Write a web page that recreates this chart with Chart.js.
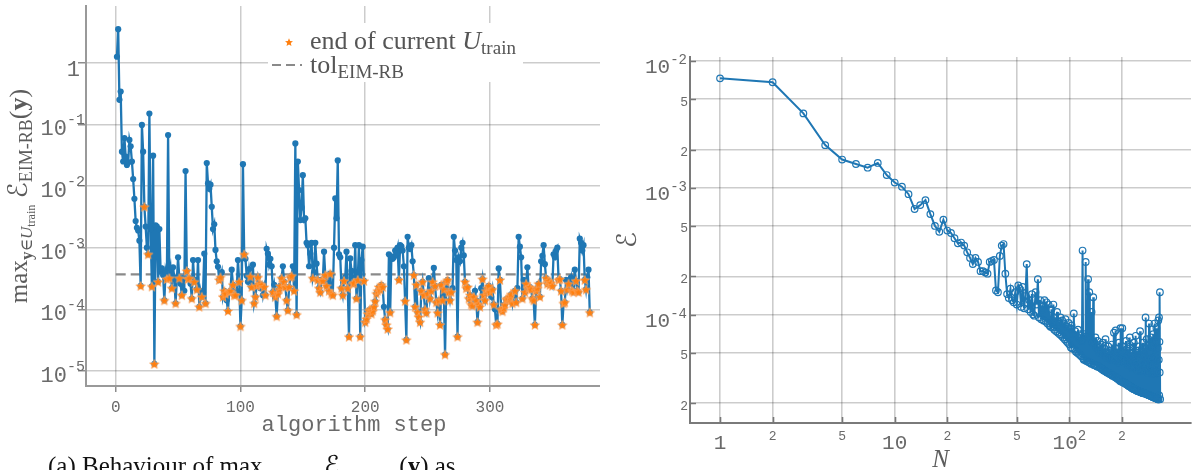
<!DOCTYPE html>
<html>
<head>
<meta charset="utf-8">
<script src="https://cdn.jsdelivr.net/npm/chart.js@4.4.1/dist/chart.umd.min.js"></script>
<style>
  html, body { margin: 0; padding: 0; background: #fff; width: 1192px; height: 470px; overflow: hidden; }
  #left  { position: absolute; left: 0;     top: 0; width: 600px; height: 470px; }
  #right { position: absolute; left: 600px; top: 0; width: 592px; height: 470px; }
</style>
</head>
<body>
<div id="left"><canvas id="stepChart"></canvas></div>
<div id="right"><canvas id="basisChart"></canvas></div>
<script>
// ---- (a) max error over the current training set, per algorithm step (steps 1..380) ----
const stepErr = [
  1.25, 3.5, 0.25, 0.34, 0.036, 0.025, 0.06, 0.03, 0.022, 0.024,
  0.056, 0.044, 0.025, 0.013, 0.0062, 0.0027, 0.0021, 0.0019, 0.0013, 2.4e-4,
  0.098, 0.036, 4.6e-3, 2.2e-3, 1.0e-3, 7.8e-4, 0.15, 2.0e-3, 2.35e-4, 0.031,
  1.3e-5, 2.3e-3, 2.2e-3, 2.8e-4, 2.0e-3, 4.2e-4, 4.6e-4, 3.6e-4, 1.4e-4, 4.0e-4,
  3.1e-4, 0.067, 3.2e-4, 4.5e-4, 2.2e-4, 4.8e-4, 3.3e-4, 1.25e-4, 3.0e-4, 7.0e-4,
  3.2e-4, 2.6e-4, 1.7e-4, 3.2e-4, 2.0e-4, 0.0175, 4.2e-4, 3.1e-4, 3.2e-4, 2.6e-4,
  1.5e-4, 6.3e-4, 2.8e-4, 3.0e-4, 2.1e-4, 6.3e-4, 1.1e-4, 2.0e-4, 1.6e-4, 1.9e-4,
  8.0e-4, 1.25e-4, 0.0236, 0.011, 0.009, 0.0105, 4.6e-3, 2.0e-3, 2.4e-3, 9.2e-4,
  6.0e-4, 4.9e-4, 3.0e-4, 3.3e-4, 4.0e-4, 1.6e-4, 2.0e-4, 1.8e-4, 1.4e-4, 9.4e-5,
  1.9e-4, 2.0e-4, 4.4e-4, 2.5e-4, 1.7e-4, 1.7e-4, 2.0e-4, 6.3e-4, 2.8e-4, 5.3e-5,
  1.4e-4, 0.0226, 7.8e-4, 6.6e-4, 3.5e-4, 2.8e-4, 4.5e-4, 3.4e-4, 2.3e-4, 5.3e-4,
  1.25e-4, 1.6e-4, 2.4e-4, 3.3e-4, 2.6e-4, 2.2e-4, 2.5e-4, 1.7e-4, 2.3e-4, 1.7e-4,
  9.6e-4, 8.0e-4, 5.3e-4, 6.6e-4, 5.0e-4, 1.9e-4, 2.5e-4, 1.6e-4, 7.7e-5, 1.8e-4,
  2.1e-4, 2.4e-4, 3.2e-4, 5.0e-4, 2.8e-4, 2.3e-4, 1.4e-4, 9.6e-5, 2.3e-4, 3.3e-4,
  3.5e-4, 5.0e-4, 2.0e-4, 0.049, 8.2e-5, 0.025, 8.6e-3, 2.8e-3, 4.5e-3, 0.015,
  2.8e-3, 3.0e-3, 1.2e-3, 1.1e-3, 5.0e-4, 8.0e-4, 1.2e-3, 3.2e-4, 4.0e-4, 1.2e-3,
  5.5e-4, 3.0e-4, 2.2e-4, 1.9e-4, 3.0e-4, 2.9e-4, 8.6e-4, 3.6e-4, 2.4e-4, 3.2e-4,
  2.0e-4, 3.8e-4, 1.8e-4, 1.7e-4, 1.0e-3, 6.3e-3, 3.0e-3, 0.026, 7.8e-4, 7.0e-4,
  2.2e-4, 1.7e-4, 2.9e-4, 3.3e-4, 8.6e-4, 2.2e-4, 3.6e-5, 6.7e-4, 4.2e-4, 2.6e-4,
  2.7e-4, 1.1e-3, 1.5e-4, 3.0e-4, 1.1e-3, 3.6e-5, 6.3e-4, 1.04e-3, 2.9e-4, 6.2e-5,
  7.0e-5, 8.5e-5, 9.5e-5, 1.0e-4, 8.5e-5, 9.5e-5, 1.1e-4, 1.35e-4, 1.8e-4, 2.0e-4,
  2.3e-4, 2.1e-4, 2.5e-4, 2.3e-4, 1.1e-4, 6.8e-5, 5.6e-5, 4.8e-5, 7.8e-4, 8.9e-5,
  7.2e-4, 6.6e-4, 7.0e-4, 9.0e-4, 8.0e-4, 1.0e-3, 3.0e-4, 1.1e-3, 1.05e-3, 9.0e-4,
  5.0e-4, 1.36e-4, 3.2e-5, 1.5e-3, 1.0e-3, 9.5e-4, 1.1e-3, 6.0e-4, 3.6e-4, 1.1e-4,
  2.5e-4, 9.0e-5, 7.5e-5, 6.2e-5, 2.0e-4, 2.8e-4, 1.7e-4, 1.0e-4, 8.8e-5, 1.8e-4,
  3.2e-4, 1.5e-4, 2.0e-4, 2.8e-4, 4.7e-4, 2.4e-4, 1.3e-4, 8.8e-5, 1.4e-4, 5.6e-5,
  2.5e-4, 1.4e-4, 2.1e-4, 1.85e-5, 2.8e-4, 3.0e-4, 1.9e-4, 1.4e-4, 1.9e-4, 2.2e-4,
  1.5e-3, 9.0e-4, 6.3e-4, 3.6e-5, 7.0e-4, 6.0e-4, 1.0e-3, 1.2e-3, 7.5e-4, 2.8e-4,
  2.2e-4, 2.3e-4, 1.5e-4, 1.7e-4, 1.2e-4, 1.15e-4, 1.6e-4, 2.0e-4, 1.4e-4, 6.2e-5,
  1.2e-4, 1.1e-4, 2.2e-4, 3.1e-4, 1.7e-4, 1.4e-4, 2.0e-4, 2.2e-4, 2.4e-4, 1.9e-4,
  1.6e-4, 2.1e-4, 1.2e-4, 1.0e-4, 5.6e-5, 5.8e-5, 4.6e-4, 3.0e-4, 1.0e-4, 9.3e-5,
  1.05e-4, 1.2e-4, 1.45e-4, 1.5e-4, 1.45e-4, 1.6e-4, 1.75e-4, 1.25e-4, 1.7e-4, 2.0e-4,
  1.3e-4, 2.2e-4, 1.5e-3, 1.04e-3, 7.0e-4, 1.5e-4, 3.0e-4, 1.9e-4, 2.6e-4, 4.8e-4,
  2.2e-4, 2.3e-4, 2.1e-4, 1.5e-4, 1.4e-4, 5.6e-5, 2.0e-4, 2.2e-4, 2.6e-4, 1.6e-4,
  6.0e-4, 7.4e-4, 1.1e-3, 5.4e-4, 3.2e-4, 2.6e-4, 2.9e-4, 2.5e-4, 2.7e-4, 2.4e-4,
  7.8e-4, 7.0e-4, 9.0e-4, 1.0e-3, 3.0e-4, 3.1e-4, 2.0e-4, 5.6e-5, 1.25e-4, 1.3e-4,
  3.0e-4, 2.1e-4, 2.6e-4, 2.7e-4, 3.3e-4, 2.0e-4, 1.9e-4, 4.4e-4, 2.9e-4, 2.0e-4,
  1.9e-4, 1.4e-3, 1.2e-3, 9.0e-4, 1.1e-3, 3.0e-4, 2.1e-4, 3.3e-4, 4.4e-4, 8.9e-5
];

// steps at which the current training set U_train ends (starred)
const trainEndSteps = [
  20, 23, 26, 29, 31, 34, 39, 41, 43, 45, 48, 51, 53, 57, 58, 59, 61, 63, 65, 67, 69, 72,
  83, 84, 86, 87, 88, 90, 91, 92, 94, 95, 96, 99, 100, 101, 103, 108, 109, 111, 112, 113,
  114, 115, 117, 119, 120, 126, 128, 129, 130, 131, 132, 133, 135, 136, 137, 138, 139, 140,
  141, 143, 145, 158, 162, 163, 164, 165, 166, 168, 169, 171, 172, 173, 174, 181, 182, 183,
  186, 187, 190, 191, 193, 194, 196, 199, 200, 201, 202, 203, 204, 205, 206, 207, 208, 209,
  210, 211, 212, 213, 214, 216, 217, 218, 220, 227, 232, 233, 239, 240, 241, 242, 243, 244,
  245, 246, 247, 248, 249, 250, 252, 253, 254, 256, 257, 258, 259, 260, 261, 262, 263, 264,
  265, 266, 267, 268, 269, 274, 280, 281, 282, 283, 284, 285, 286, 287, 289, 290, 291, 292,
  294, 295, 296, 297, 298, 299, 300, 302, 303, 305, 306, 308, 309, 310, 311, 312, 313, 314,
  315, 316, 317, 318, 320, 321, 326, 328, 329, 331, 332, 333, 334, 335, 336, 337, 338, 339,
  340, 345, 346, 347, 348, 349, 350, 355, 356, 357, 358, 359, 360, 362, 363, 366, 367, 369,
  370, 371, 376, 377, 380
];

const tolEIMRB = 3.7e-4;
const stepTicks = [0, 100, 200, 300];
const errDecades = [1, 1e-1, 1e-2, 1e-3, 1e-4, 1e-5];

// ---- (b) error versus reduced basis size N (N = 1..331) ----
const basisErr = [
  7.3e-3, 6.8e-3, 3.86e-3, 2.17e-3, 1.67e-3, 1.54e-3, 1.44e-3, 1.57e-3, 1.26e-3, 1.10e-3,
  1.02e-3, 8.9e-4, 6.8e-4, 7.3e-4, 8.0e-4, 6.2e-4, 5.0e-4, 4.5e-4, 5.6e-4, 4.6e-4,
  4.4e-4, 4.0e-4, 3.65e-4, 3.7e-4, 3.5e-4, 3.1e-4, 2.8e-4, 2.5e-4, 2.8e-4, 2.6e-4,
  2.2e-4, 2.2e-4, 2.15e-4, 2.1e-4, 2.6e-4, 2.65e-4, 2.7e-4, 1.55e-4, 1.5e-4, 2.9e-4,
  3.5e-4, 3.6e-4, 2.1e-4, 1.45e-4, 1.35e-4, 1.6e-4, 1.3e-4, 1.25e-4, 1.5e-4, 1.2e-4,
  1.7e-4, 1.6e-4, 1.15e-4, 1.65e-4, 1.12e-4, 1.4e-4, 2.5e-4, 1.1e-4, 1.3e-4, 1.05e-4,
  1.45e-4, 1.0e-4, 9.8e-5, 1.5e-4, 1.2e-4, 1.9e-4, 9.5e-5, 1.3e-4, 9.2e-5, 1.1e-4,
  9.0e-5, 1.3e-4, 8.8e-5, 1.25e-4, 8.5e-5, 1.2e-4, 8.2e-5, 8.0e-5, 1.1e-4, 7.9e-5,
  1.2e-4, 7.6e-5, 9.5e-5, 7.4e-5, 1.05e-4, 7.2e-5, 8.8e-5, 7.0e-5, 9.5e-5, 6.8e-5,
  9.0e-5, 6.6e-5, 8.5e-5, 6.4e-5, 9.2e-5, 6.2e-5, 8.0e-5, 6.0e-5, 8.6e-5, 5.8e-5,
  7.8e-5, 5.5e-5, 8.2e-5, 5.4e-5, 7.0e-5, 1.02e-4, 5.3e-5, 7.4e-5, 5.1e-5, 6.8e-5,
  5.0e-5, 7.6e-5, 4.9e-5, 6.5e-5, 4.8e-5, 7.0e-5, 4.7e-5, 6.2e-5, 3.2e-4, 4.5e-5,
  4.4e-5, 7.0e-5, 4.4e-5, 2.6e-4, 4.3e-5, 6.8e-5, 4.3e-5, 1.9e-4, 4.2e-5, 1.5e-4,
  4.2e-5, 6.5e-5, 4.1e-5, 1.05e-4, 4.1e-5, 6.0e-5, 1.37e-4, 4.0e-5, 5.8e-5, 4.0e-5,
  6.6e-5, 3.95e-5, 5.5e-5, 3.9e-5, 6.2e-5, 3.9e-5, 5.6e-5, 3.85e-5, 5.0e-5, 3.8e-5,
  5.8e-5, 3.75e-5, 5.2e-5, 3.7e-5, 6.0e-5, 3.65e-5, 4.8e-5, 3.6e-5, 5.4e-5, 3.6e-5,
  6.4e-5, 3.55e-5, 4.6e-5, 3.5e-5, 5.0e-5, 3.5e-5, 5.6e-5, 3.45e-5, 4.5e-5, 3.4e-5,
  5.2e-5, 3.4e-5, 4.4e-5, 3.35e-5, 5.8e-5, 3.3e-5, 4.6e-5, 3.3e-5, 5.0e-5, 7.2e-5,
  3.25e-5, 4.4e-5, 3.2e-5, 7.5e-5, 3.2e-5, 4.8e-5, 3.15e-5, 5.4e-5, 3.1e-5, 4.2e-5,
  3.1e-5, 6.0e-5, 3.05e-5, 4.5e-5, 3.0e-5, 7.8e-5, 3.0e-5, 5.0e-5, 2.95e-5, 4.3e-5,
  7.8e-5, 2.95e-5, 4.6e-5, 2.9e-5, 5.6e-5, 2.9e-5, 4.2e-5, 2.88e-5, 5.0e-5, 2.85e-5,
  6.2e-5, 2.82e-5, 4.4e-5, 2.8e-5, 5.4e-5, 2.78e-5, 4.0e-5, 2.75e-5, 4.8e-5, 2.72e-5,
  5.8e-5, 6.6e-5, 2.7e-5, 4.2e-5, 2.68e-5, 5.0e-5, 2.65e-5, 3.8e-5, 2.62e-5, 5.5e-5,
  2.6e-5, 4.4e-5, 2.6e-5, 6.0e-5, 2.58e-5, 3.9e-5, 2.56e-5, 4.6e-5, 2.55e-5, 6.8e-5,
  2.53e-5, 4.1e-5, 2.52e-5, 5.2e-5, 2.5e-5, 3.6e-5, 2.5e-5, 4.8e-5, 2.48e-5, 5.6e-5,
  2.47e-5, 3.9e-5, 2.46e-5, 7.4e-5, 2.45e-5, 4.4e-5, 2.44e-5, 3.6e-5, 2.43e-5, 5.2e-5,
  2.42e-5, 4.0e-5, 2.41e-5, 6.0e-5, 2.4e-5, 3.7e-5, 2.4e-5, 4.6e-5, 2.39e-5, 5.4e-5,
  2.38e-5, 4.0e-5, 9.5e-5, 2.37e-5, 3.8e-5, 2.36e-5, 6.4e-5, 2.35e-5, 4.4e-5, 2.34e-5,
  3.5e-5, 2.33e-5, 5.8e-5, 2.32e-5, 4.2e-5, 8.5e-5, 2.31e-5, 3.6e-5, 2.3e-5, 5.0e-5,
  2.29e-5, 3.9e-5, 2.28e-5, 6.6e-5, 2.27e-5, 4.5e-5, 2.26e-5, 3.4e-5, 2.25e-5, 5.6e-5,
  2.24e-5, 7.0e-5, 2.23e-5, 4.0e-5, 2.22e-5, 3.6e-5, 8.5e-5, 2.21e-5, 4.6e-5, 2.2e-5,
  3.4e-5, 2.2e-5, 6.0e-5, 2.19e-5, 7.8e-5, 2.18e-5, 4.2e-5, 2.17e-5, 3.5e-5, 2.16e-5,
  5.4e-5, 2.15e-5, 9.0e-5, 2.14e-5, 4.4e-5, 9.5e-5, 2.3e-5, 6.1e-5, 3.5e-5, 1.5e-4,
  2.15e-5
];
const nTicks = [1, 2, 5, 10, 20, 50, 100, 200];
const basisErrTicks = [1e-2, 5e-3, 2e-3, 1e-3, 5e-4, 2e-4, 1e-4, 5e-5, 2e-5];

// ---- styling ----
const BLUE = '#1f77b4';
const ORANGE = '#ff7f0e';
const GRID = 'rgba(0,0,0,0.2)';
const TXT = '#6a6a6a';
const MONO = '"Liberation Mono", "DejaVu Sans Mono", monospace';
const SERIF = '"Liberation Serif", "DejaVu Serif", serif';
const SCRIPT = '"DejaVu Serif", "DejaVu Sans", serif';

// draw a sequence of text pieces [text, font, dy] on one baseline
function drawRuns(ctx, parts, x, y, align) {
  let w = 0;
  for (const p of parts) { ctx.font = p[1]; w += ctx.measureText(p[0]).width; }
  let cx = align === 'center' ? x - w / 2 : (align === 'right' ? x - w : x);
  ctx.textAlign = 'left';
  ctx.textBaseline = 'alphabetic';
  for (const p of parts) {
    ctx.font = p[1];
    ctx.fillText(p[0], cx, y + (p[2] || 0));
    cx += ctx.measureText(p[0]).width;
  }
}

function starPath(ctx, cx, cy, r) {
  ctx.beginPath();
  for (let k = 0; k < 10; k++) {
    const rad = (k % 2) ? r * 0.45 : r;
    const a = -Math.PI / 2 + k * Math.PI / 5;
    ctx.lineTo(cx + rad * Math.cos(a), cy + rad * Math.sin(a));
  }
  ctx.closePath();
}

function makeStar(r) {
  const c = document.createElement('canvas');
  const s = Math.ceil(2 * r + 4);
  c.width = s; c.height = s;
  const g = c.getContext('2d');
  starPath(g, s / 2, s / 2 + r * 0.1, r);
  g.fillStyle = ORANGE;
  g.fill();
  g.lineWidth = 0.7;
  g.strokeStyle = 'rgba(250,170,110,0.9)';
  g.stroke();
  return c;
}

// ---------------- left chart ----------------
const stepPoints = stepErr.map((v, i) => ({ x: i + 1, y: v }));
const endPoints = trainEndSteps.map(s => ({ x: s, y: stepErr[s - 1] }));
const tolPoints = [{ x: 0, y: tolEIMRB }, { x: stepErr.length, y: tolEIMRB }];

const stepDecor = {
  id: 'stepDecor',
  afterDraw(chart) {
    const ctx = chart.ctx;
    const xs = chart.scales.x, ys = chart.scales.y;
    ctx.save();
    ctx.fillStyle = TXT;
    // y tick labels
    for (const v of errDecades) {
      const y = ys.getPixelForValue(v);
      const k = Math.round(Math.log10(v));
      if (k === 0) {
        drawRuns(ctx, [['1', '22px ' + MONO, 0]], 80, y + 13, 'right');
      } else {
        drawRuns(ctx, [['10', '22px ' + MONO, 11], [String(k), '15px ' + MONO, 0]], 85, y, 'right');
      }
    }
    // x tick labels
    for (const v of stepTicks) {
      drawRuns(ctx, [[String(v), '16px ' + MONO, 0]], xs.getPixelForValue(v), 412, 'center');
    }
    // x title
    drawRuns(ctx, [['algorithm step', '22px ' + MONO, 0]], 354, 431, 'center');

    // y title (rotated)
    ctx.save();
    ctx.translate(27, (chart.chartArea.top + chart.chartArea.bottom) / 2);
    ctx.rotate(-Math.PI / 2);
    ctx.fillStyle = '#5c5c5c';
    drawRuns(ctx, [
      ['max', '25px ' + SERIF, 0],
      ['y', 'bold 17px ' + SERIF, 5],
      ['\u2208', '17px ' + SERIF, 5],
      ['U', 'italic 17px ' + SERIF, 5],
      ['train', '12px ' + SERIF, 8],
      [' ', '25px ' + SERIF, 0],
      ['\u2130', 'italic 27px ' + SCRIPT, 0],
      ['EIM-RB', '18px ' + SERIF, 5],
      ['(', '26px ' + SERIF, 0],
      ['y', 'bold 26px ' + SERIF, 0],
      [')', '26px ' + SERIF, 0]
    ], 0, 0, 'center');
    ctx.restore();

    // legend
    ctx.fillStyle = '#ffffff';
    ctx.fillRect(268, 23, 255, 59);
    starPath(ctx, 289, 42.5, 4.2);
    ctx.fillStyle = ORANGE;
    ctx.fill();
    ctx.fillStyle = '#555555';
    drawRuns(ctx, [
      ['end of current ', '26px ' + SERIF, 0],
      ['U', 'italic 26px ' + SERIF, 0],
      ['train', '19px ' + SERIF, 5]
    ], 310, 49, 'left');
    ctx.strokeStyle = '#8a8a8a';
    ctx.lineWidth = 2.2;
    ctx.setLineDash([9, 5]);
    ctx.beginPath();
    ctx.moveTo(272, 65);
    ctx.lineTo(302, 65);
    ctx.stroke();
    ctx.setLineDash([]);
    drawRuns(ctx, [
      ['tol', '26px ' + SERIF, 0],
      ['EIM-RB', '19px ' + SERIF, 5]
    ], 310, 73, 'left');

    // figure caption (cut at the bottom edge)
    ctx.fillStyle = '#111111';
    drawRuns(ctx, [
      ['(a) Behaviour of max', '25px ' + SERIF, 0],
      ['y', 'bold 17px ' + SERIF, 9],
      ['\u2208', '17px ' + SERIF, 9],
      ['U', 'italic 17px ' + SERIF, 9],
      ['train', '12px ' + SERIF, 12],
      [' ', '25px ' + SERIF, 0],
      ['\u2130', 'italic 26px ' + SCRIPT, 0],
      ['EIM-RB', '17px ' + SERIF, 9],
      ['(', '25px ' + SERIF, 0],
      ['y', 'bold 25px ' + SERIF, 0],
      [') as', '25px ' + SERIF, 0]
    ], 48, 474, 'left');
    ctx.restore();
  }
};

new Chart(document.getElementById('stepChart'), {
  type: 'line',
  data: {
    datasets: [
      {
        data: endPoints,
        showLine: false,
        pointStyle: makeStar(5),
        pointRadius: 5,
        order: 0
      },
      {
        data: stepPoints,
        borderColor: BLUE,
        borderWidth: 2.3,
        pointRadius: 3.1,
        pointBackgroundColor: BLUE,
        pointBorderWidth: 0,
        tension: 0,
        order: 1
      },
      {
        data: tolPoints,
        borderColor: '#8a8a8a',
        borderWidth: 2.2,
        borderDash: [10, 5],
        pointRadius: 0,
        order: 2
      }
    ]
  },
  options: {
    responsive: true,
    maintainAspectRatio: false,
    animation: false,
    devicePixelRatio: 1,
    events: [],
    layout: { padding: { top: 6, right: 0, left: 0, bottom: 0 }, autoPadding: false },
    plugins: { legend: { display: false }, tooltip: { enabled: false } },
    scales: {
      x: {
        type: 'linear',
        min: -23.8,
        max: 388.2,
        afterBuildTicks: s => { s.ticks = stepTicks.map(v => ({ value: v })); },
        afterFit: s => { s.height = 84; },
        ticks: { display: false },
        grid: { color: GRID, lineWidth: 1.5, drawTicks: true, tickLength: 6, tickColor: '#8c8c8c', tickWidth: 1.5 },
        border: { display: true, color: '#999999', width: 2 }
      },
      y: {
        type: 'logarithmic',
        min: 5.71e-6,
        max: 8.31,
        afterBuildTicks: s => { s.ticks = errDecades.map(v => ({ value: v })); },
        afterFit: s => { s.width = 86; },
        ticks: { display: false },
        grid: { color: GRID, lineWidth: 1.5, drawTicks: true, tickLength: 8, tickColor: '#8c8c8c', tickWidth: 1.5 },
        border: { display: true, color: '#999999', width: 2 }
      }
    }
  },
  plugins: [stepDecor]
});

// ---------------- right chart ----------------
const basisPoints = basisErr.map((v, i) => ({ x: i + 1, y: v }));

const basisDecor = {
  id: 'basisDecor',
  afterDraw(chart) {
    const ctx = chart.ctx;
    const xs = chart.scales.x, ys = chart.scales.y;
    const area = chart.chartArea;
    ctx.save();
    // inward tick marks
    ctx.strokeStyle = '#777777';
    ctx.lineWidth = 1.6;
    ctx.beginPath();
    for (const v of basisErrTicks) {
      const y = Math.round(ys.getPixelForValue(v)) + 0.5;
      ctx.moveTo(area.left, y);
      ctx.lineTo(area.left + 6, y);
    }
    for (const v of nTicks) {
      const x = Math.round(xs.getPixelForValue(v)) + 0.5;
      ctx.moveTo(x, area.bottom);
      ctx.lineTo(x, area.bottom - 6);
    }
    ctx.stroke();

    ctx.fillStyle = TXT;
    // y tick labels
    for (const v of basisErrTicks) {
      const y = ys.getPixelForValue(v);
      const k = Math.floor(Math.log10(v) + 1e-9);
      const m = Math.round(v / Math.pow(10, k));
      if (m === 1) {
        drawRuns(ctx, [['10', '21px ' + MONO, 12], [String(k), '14px ' + MONO, 3]], 87, y, 'right');
      } else {
        drawRuns(ctx, [[String(m), '13px ' + MONO, 0]], 88, y + 6.5, 'right');
      }
    }
    // x tick labels
    for (const v of nTicks) {
      const x = xs.getPixelForValue(v);
      const k = Math.floor(Math.log10(v) + 1e-9);
      const m = Math.round(v / Math.pow(10, k));
      if (m !== 1) {
        drawRuns(ctx, [[String(m), '13px ' + MONO, 0]], x, 439.5, 'center');
      } else if (k === 0) {
        drawRuns(ctx, [['1', '21px ' + MONO, 0]], x, 448.5, 'center');
      } else if (k === 1) {
        drawRuns(ctx, [['10', '21px ' + MONO, 0]], x, 448.5, 'center');
      } else {
        drawRuns(ctx, [['10', '21px ' + MONO, 0], [String(k), '14px ' + MONO, -9]], x, 448.5, 'center');
      }
    }
    // axis titles
    ctx.fillStyle = '#5c5c5c';
    drawRuns(ctx, [['N', 'italic 25px ' + SERIF, 0]], (area.left + area.right) / 2, 467, 'center');
    ctx.save();
    ctx.translate(36, (area.top + area.bottom) / 2);
    ctx.rotate(-Math.PI / 2);
    drawRuns(ctx, [['\u2130', 'italic 27px ' + SCRIPT, 0]], 0, 0, 'center');
    ctx.restore();
    ctx.restore();
  }
};

new Chart(document.getElementById('basisChart'), {
  type: 'line',
  data: {
    datasets: [{
      data: basisPoints,
      borderColor: BLUE,
      borderWidth: 2,
      pointRadius: 3.3,
      pointBackgroundColor: 'rgba(0,0,0,0)',
      pointBorderColor: BLUE,
      pointBorderWidth: 1.2,
      tension: 0
    }]
  },
  options: {
    responsive: true,
    maintainAspectRatio: false,
    animation: false,
    devicePixelRatio: 1,
    events: [],
    layout: { padding: { top: 57, right: 1, left: 0, bottom: 0 }, autoPadding: false },
    plugins: { legend: { display: false }, tooltip: { enabled: false } },
    scales: {
      x: {
        type: 'logarithmic',
        min: 0.673,
        max: 497,
        afterBuildTicks: s => { s.ticks = nTicks.map(v => ({ value: v })); },
        afterFit: s => { s.height = 47; },
        ticks: { display: false },
        grid: { color: GRID, lineWidth: 1.6, drawTicks: false },
        border: { display: true, color: '#7a7a7a', width: 2 }
      },
      y: {
        type: 'logarithmic',
        min: 1.396e-5,
        max: 1.0753e-2,
        afterBuildTicks: s => { s.ticks = basisErrTicks.map(v => ({ value: v })); },
        afterFit: s => { s.width = 90; },
        ticks: { display: false },
        grid: { color: GRID, lineWidth: 1.6, drawTicks: false },
        border: { display: true, color: '#7a7a7a', width: 2 }
      }
    }
  },
  plugins: [basisDecor]
});
</script>
</body>
</html>
